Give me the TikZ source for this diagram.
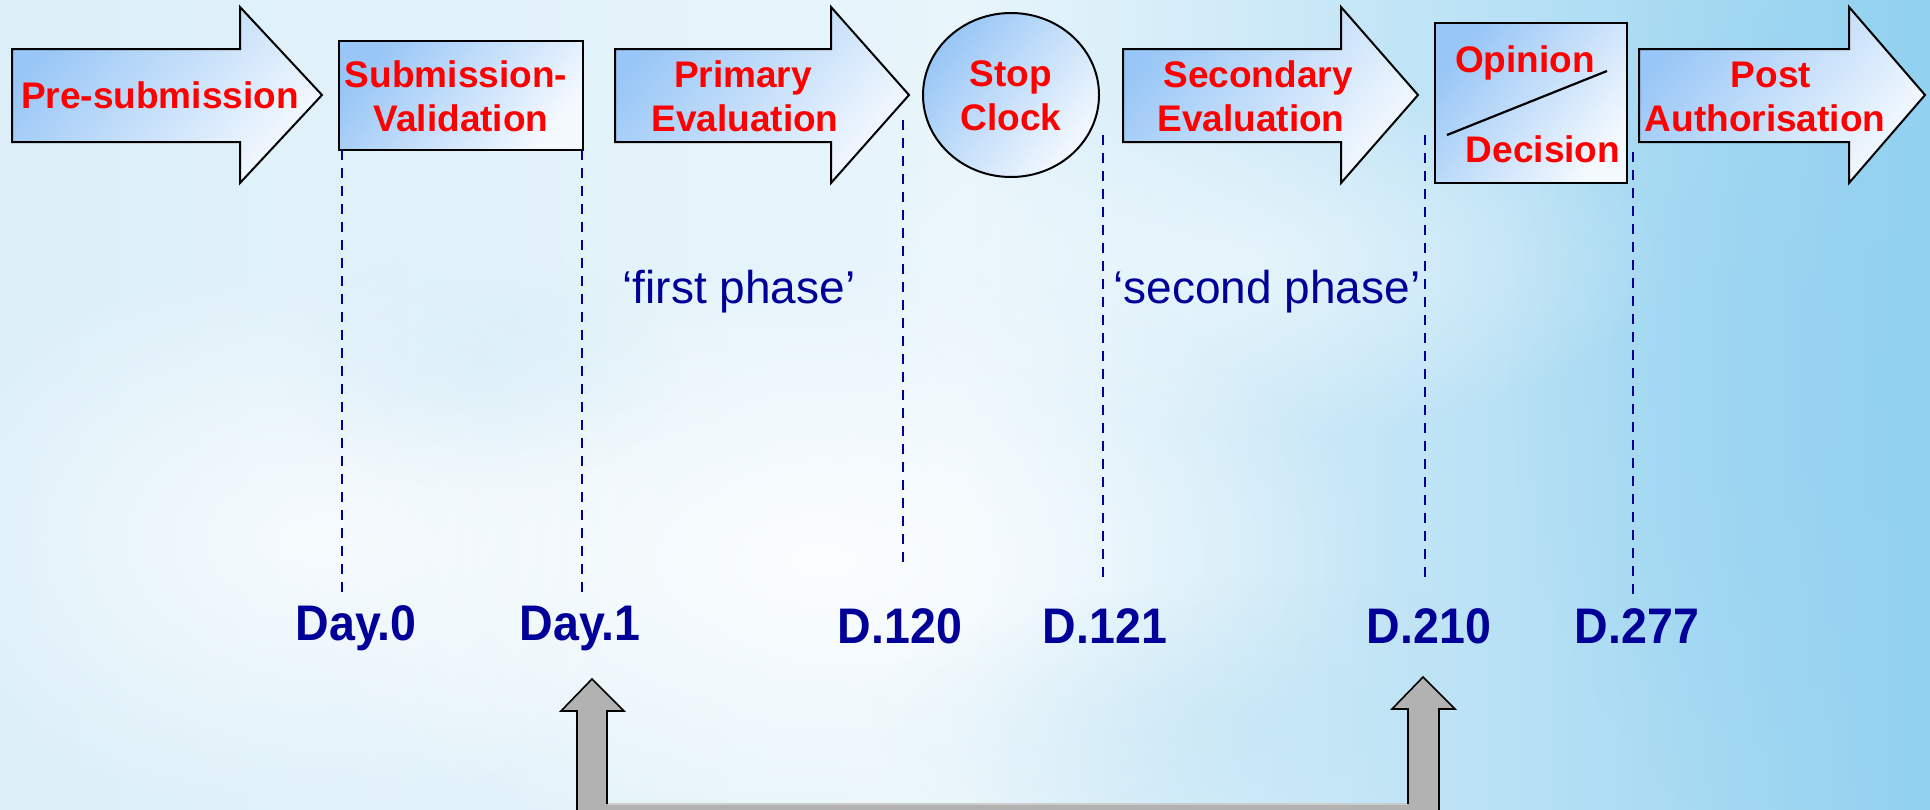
\documentclass[tikz,border=0pt]{standalone}
\usepackage{fontspec}
\setmainfont{Liberation Sans}
\usetikzlibrary{fadings}
\definecolor{navy}{HTML}{000099}
\definecolor{redtxt}{HTML}{FF0000}
\definecolor{shapeA}{HTML}{98C6F6}
\definecolor{shapeB}{HTML}{F4F9FE}
\definecolor{skyL}{HTML}{DCEFF9}
\definecolor{skyM}{HTML}{E8F5FB}
\definecolor{skyR}{HTML}{92D1F0}
\definecolor{grayarrow}{HTML}{B2B2B2}
\definecolor{graytop}{HTML}{CCCCCC}
\tikzfading[name=softblob, inner color=transparent!0, outer color=transparent!100]
\newcommand{\phasearrow}[3]{%
  \path[phase] (#1,49) -- (#2,49) -- (#2,7) -- (#3,95) -- (#2,183) -- (#2,142) -- (#1,142) -- cycle;}
\begin{document}
\begin{tikzpicture}[x=0.5pt,y=-0.5pt,
  phase/.style={draw=black, line width=1pt, top color=shapeA, bottom color=shapeB, shading angle=50},
  redlbl/.style={text=redtxt, font=\fontsize{18.5}{22}\selectfont\bfseries, inner sep=0pt, anchor=base},
  daylbl/.style={text=navy, font=\fontsize{25}{28}\selectfont\bfseries, inner sep=0pt, anchor=base, xscale=0.93},
  phaselbl/.style={text=navy, font=\fontsize{23}{27}\selectfont, inner sep=0pt, anchor=base},
  daydash/.style={draw=navy, line width=1.3pt, dash pattern=on 5pt off 4pt},
  grayfill/.style={fill=grayarrow, draw=none},
  grayline/.style={draw=black, line width=0.8pt, line join=miter},
]
\useasboundingbox (0,0) rectangle (1930,809);
\clip (0,0) rectangle (1930,809);
% background sky
\path[left color=skyL, right color=skyR, middle color=skyM] (0,0) rectangle (1930,809);
\fill[skyR, path fading=softblob, opacity=0.7] (1930,380) ellipse (420 and 520);
\fill[white, path fading=softblob, opacity=0.85] (820,560) ellipse (560 and 300);
\fill[white, path fading=softblob, opacity=0.7] (300,540) ellipse (400 and 280);
\fill[white, path fading=softblob, opacity=0.5] (1250,260) ellipse (420 and 180);
\fill[skyL!80!skyR, path fading=softblob, opacity=0.4] (480,370) ellipse (200 and 120);
\fill[skyL!60!skyR, path fading=softblob, opacity=0.45] (1250,720) ellipse (380 and 140);

% phase shapes
\phasearrow{12}{240}{322}
\path[phase] (339,41) rectangle (583,150);
\phasearrow{615}{831}{909}
\path[phase] (1011,95) ellipse (88 and 82);
\phasearrow{1123}{1341}{1418}
\path[phase] (1435,23) rectangle (1627,183);
\draw[line width=1.1pt] (1447,135) -- (1607,71);
\phasearrow{1639}{1849}{1925}

% red labels
\node[redlbl] (pre) at (160,108) {Pre-submission};
\node[redlbl] (sub1) at (456,87) {Submission-};
\node[redlbl] (sub2) at (461,131) {Validation};
\node[redlbl] (pri1) at (743,87) {Primary};
\node[redlbl] (pri2) at (745,131) {Evaluation};
\node[redlbl] (stop1) at (1011,86) {Stop};
\node[redlbl] (stop2) at (1011,130) {Clock};
\node[redlbl] (sec1) at (1258,87) {Secondary};
\node[redlbl] (sec2) at (1251,131) {Evaluation};
\node[redlbl] (op1) at (1525,72) {Opinion};
\node[redlbl] (op2) at (1543,162) {Decision};
\node[redlbl] (post1) at (1771,87) {Post};
\node[redlbl] (post2) at (1765,131) {Authorisation};

% dashed day lines
\draw[daydash] (342,150) -- (342,599);
\draw[daydash] (582,150) -- (582,599);
\draw[daydash] (903,120) -- (903,567);
\draw[daydash] (1103,135) -- (1103,583);
\draw[daydash] (1425,135) -- (1425,583);
\draw[daydash] (1633,152) -- (1633,599);

% phase texts
\node[phaselbl] (ph1) at (739,303) {‘first phase’};
\node[phaselbl] (ph2) at (1267,303) {‘second phase’};

% day labels
\node[daylbl] (d0) at (356,640) {Day.0};
\node[daylbl] (d1) at (580,640) {Day.1};
\node[daylbl] (d120) at (900,643) {D.120};
\node[daylbl] (d121) at (1105,643) {D.121};
\node[daylbl] (d210) at (1429,643) {D.210};
\node[daylbl] (d277) at (1637,643) {D.277};

% gray connector arrows
\path[grayfill] (577,820) -- (577,711) -- (561,711) -- (592,679) -- (624,711) -- (607,711) -- (607,804)
  -- (1408,804) -- (1408,709) -- (1392,709) -- (1423,677) -- (1455,709) -- (1439,709) -- (1439,820) -- cycle;
\draw[graytop, line width=0.8pt] (607,804) -- (1408,804);
\draw[grayline] (577,820) -- (577,711) -- (561,711) -- (592,679) -- (624,711) -- (607,711) -- (607,804);
\draw[grayline] (1408,804) -- (1408,709) -- (1392,709) -- (1423,677) -- (1455,709) -- (1439,709) -- (1439,820);
\end{tikzpicture}
\end{document}
